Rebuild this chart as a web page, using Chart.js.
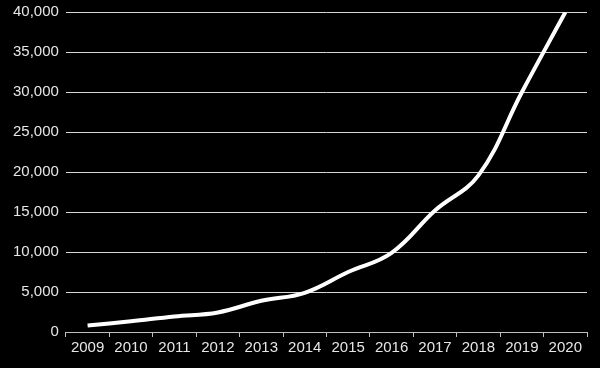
<!DOCTYPE html>
<html>
<head>
<meta charset="utf-8">
<script src="https://cdn.jsdelivr.net/npm/chart.js@4.4.0/dist/chart.umd.min.js"></script>
<style>
    html, body { margin: 0; padding: 0; background: #000; }
    #wrap { width: 600px; height: 368px; position: relative; }
</style>
</head>
<body>
<div id="wrap"><canvas id="growthChart"></canvas></div>
<script>
// 年份
const years = ['2009', '2010', '2011', '2012', '2013', '2014', '2015', '2016', '2017', '2018', '2019', '2020'];
// 数值
const values = [800, 1350, 1950, 2450, 3900, 4900, 7500, 9900, 15200, 19600, 30000, 40000];
// y轴刻度
const yMax = 40000;
const yStep = 5000;

const ctx = document.getElementById('growthChart').getContext('2d');

new Chart(ctx, {
    type: 'line',
    data: {
        labels: years,
        datasets: [{
            data: values,
            borderColor: '#ffffff',
            borderWidth: 4,
            pointRadius: 0,
            tension: 0.4,
            fill: false
        }]
    },
    options: {
        responsive: true,
        maintainAspectRatio: false,
        animation: false,
        layout: {
            padding: { left: 6, right: 13, top: 1, bottom: 9 }
        },
        plugins: {
            legend: { display: false },
            tooltip: { enabled: false }
        },
        scales: {
            x: {
                offset: true,
                grid: {
                    offset: true,
                    drawOnChartArea: false,
                    color: '#bfbfbf',
                    tickLength: 5
                },
                border: { display: true, color: '#bfbfbf', width: 1 },
                ticks: {
                    color: '#e6e6e6',
                    font: { family: 'Liberation Sans', size: 15 },
                    padding: 2,
                    maxRotation: 0,
                    autoSkip: false
                }
            },
            y: {
                min: 0,
                max: yMax,
                grid: {
                    color: '#d9d9d9',
                    drawTicks: false,
                    lineWidth: 1
                },
                border: { display: false },
                ticks: {
                    stepSize: yStep,
                    color: '#e6e6e6',
                    // 行高缩小，让顶部留白和原图一致
                    font: { family: 'Liberation Sans', size: 15, lineHeight: 0.7 },
                    padding: 7,
                    callback: function(value) {
                        return value.toLocaleString('en-US');
                    }
                }
            }
        }
    }
});
</script>
</body>
</html>
